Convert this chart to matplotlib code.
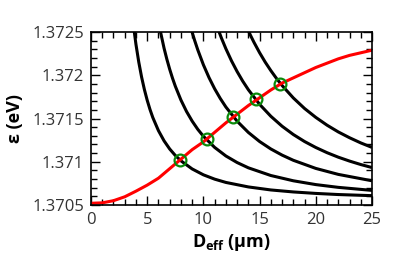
import matplotlib
matplotlib.use("Agg")
import matplotlib.pyplot as plt
from matplotlib.ticker import MultipleLocator

plt.rcParams["font.family"] = ["Open Sans", "DejaVu Sans"]
plt.rcParams["mathtext.fontset"] = "custom"
plt.rcParams["mathtext.rm"] = "Open Sans"
plt.rcParams["mathtext.bf"] = "Open Sans:bold"

# 红色曲线
red_d = [0, 1, 2, 3, 4, 5, 6, 7, 8, 9, 10, 11, 12, 13, 14, 15, 16, 17, 18,
         19, 20, 21, 22, 23, 24, 25]
red_e = [1.37052, 1.370525, 1.37055, 1.370595, 1.37066, 1.37073, 1.37081,
         1.37092, 1.37103, 1.37114, 1.37123, 1.37134, 1.37145, 1.37155,
         1.37165, 1.37174, 1.37183, 1.37191, 1.37197, 1.37203, 1.37209,
         1.37214, 1.37219, 1.37223, 1.37226, 1.37229]

# black curves
c1_d = [3.8, 4, 4.25, 4.5, 4.75, 5, 5.25, 5.5, 6, 6.5, 7, 7.5, 8, 9, 10, 11,
        12, 14, 16, 18, 20, 22, 25]
c1_e = [1.372551, 1.372357, 1.372152, 1.371980, 1.371835, 1.371711, 1.371604,
        1.371511, 1.371360, 1.371242, 1.371148, 1.371073, 1.371011, 1.370917,
        1.370849, 1.370799, 1.370761, 1.370709, 1.370674, 1.370651, 1.370634,
        1.370621, 1.370608]
c2_d = [6.1, 6.5, 6.75, 7, 7.25, 7.5, 8, 8.5, 9, 9.5, 10, 11, 12, 13, 14, 16,
        18, 20, 22, 25]
c2_e = [1.372552, 1.372313, 1.372185, 1.372070, 1.371967, 1.371874, 1.371714,
        1.371581, 1.371470, 1.371375, 1.371295, 1.371166, 1.371067, 1.370991,
        1.370930, 1.370841, 1.370780, 1.370736, 1.370704, 1.370669]
c3_d = [8.9, 9.2, 9.5, 10, 10.5, 11, 11.5, 12, 13, 14, 15, 16, 17, 18, 20,
        22, 25]
c3_e = [1.372540, 1.372411, 1.372294, 1.372121, 1.371973, 1.371844, 1.371732,
        1.371633, 1.371469, 1.371339, 1.371234, 1.371148, 1.371077, 1.371017,
        1.370923, 1.370854, 1.370780]
c4_d = [11.3, 11.6, 12, 12.5, 13, 13.5, 14, 15, 16, 17, 18, 19, 20, 21, 22,
        23, 24, 25]
c4_e = [1.372535, 1.372432, 1.372307, 1.372167, 1.372043, 1.371932, 1.371833,
        1.371664, 1.371526, 1.371411, 1.371315, 1.371234, 1.371165, 1.371105,
        1.371053, 1.371008, 1.370968, 1.370933]
c5_d = [13.9, 14.2, 14.5, 15, 15.5, 16, 16.5, 17, 18, 19, 20, 21, 22, 23, 24, 25]
c5_e = [1.372543, 1.372459, 1.372381, 1.372261, 1.372152, 1.372054, 1.371964,
        1.371882, 1.371738, 1.371616, 1.371513, 1.371423, 1.371345, 1.371278,
        1.371218, 1.371166]

# 交点
cross_d = [7.92, 10.29, 12.66, 14.65, 16.81]
cross_e = [1.37102, 1.37126, 1.37152, 1.37172, 1.37190]

x_ticks = [0, 5, 10, 15, 20, 25]
y_ticks = [1.3705, 1.371, 1.3715, 1.372, 1.3725]
y_ticklabels = ["1.3705", "1.371", "1.3715", "1.372", "1.3725"]

fig = plt.figure(figsize=(4.07, 2.67), dpi=100)
ax = fig.add_axes([0.2236, 0.2322, 0.6904, 0.6478])

for d, e in [(c1_d, c1_e), (c2_d, c2_e), (c3_d, c3_e), (c4_d, c4_e), (c5_d, c5_e)]:
    ax.plot(d, e, color="black", linewidth=2.2, solid_capstyle="butt")
ax.plot(red_d, red_e, color="#ff0000", linewidth=2.2)
ax.plot(cross_d, cross_e, linestyle="none", marker="o", markersize=8.5,
        markerfacecolor="none", markeredgecolor="#0a8a0a", markeredgewidth=1.6)

ax.set_xlim(0, 25)
ax.set_ylim(1.3705, 1.3725)
ax.set_xticks(x_ticks)
ax.set_yticks(y_ticks)
ax.set_yticklabels(y_ticklabels)
ax.xaxis.set_minor_locator(MultipleLocator(1))
ax.yaxis.set_minor_locator(MultipleLocator(0.0001))
ax.tick_params(which="both", direction="in", top=True, right=True,
               width=1, color="black")
ax.tick_params(which="major", length=6.5, labelsize=12, labelcolor="#333333", pad=5)
ax.tick_params(which="minor", length=4.3)
for s in ax.spines.values():
    s.set_linewidth(1.2)

ax.set_xlabel(r"$\mathbf{D_{eff}}$ (µm)", fontsize=13, fontweight="bold", labelpad=3)
ax.set_ylabel("ε (eV)", fontsize=13, fontweight="bold", labelpad=6)

fig.savefig("out.png", dpi=100)
